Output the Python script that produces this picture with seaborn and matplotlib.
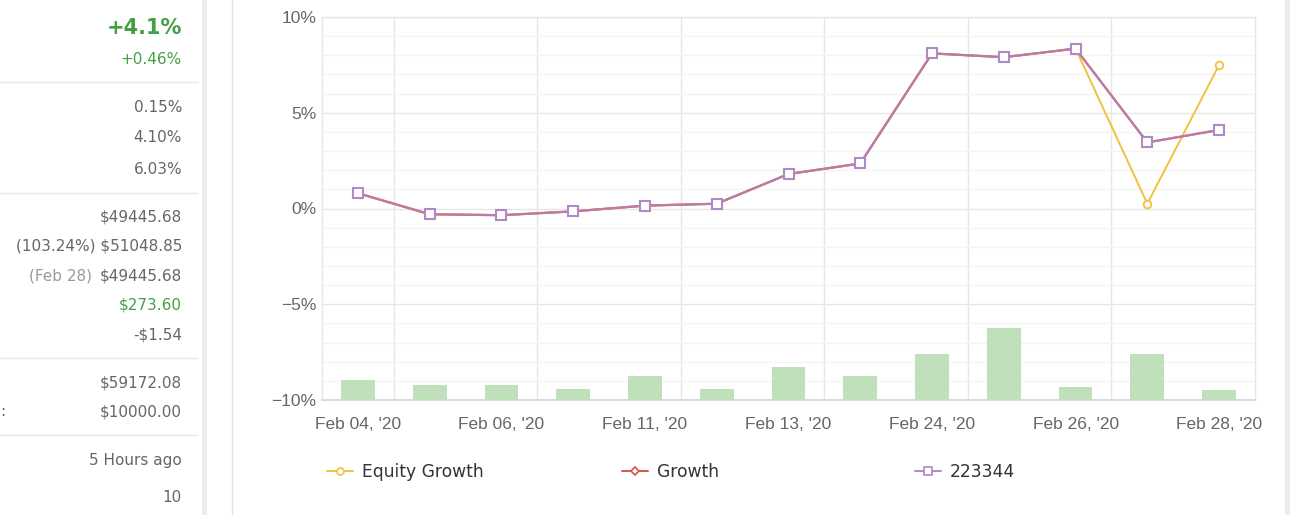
import numpy as np
import pandas as pd
import matplotlib.pyplot as plt
import matplotlib.ticker as mticker
from matplotlib.lines import Line2D
from matplotlib.patches import Rectangle
import seaborn as sns

# dados
datas = ["Feb 04, '20", "Feb 05, '20", "Feb 06, '20", "Feb 07, '20", "Feb 11, '20",
         "Feb 12, '20", "Feb 13, '20", "Feb 14, '20", "Feb 24, '20", "Feb 25, '20",
         "Feb 26, '20", "Feb 27, '20", "Feb 28, '20"]
equity_growth = [0.8, -0.3, -0.35, -0.15, 0.15, 0.25, 1.8, 2.35, 8.1, 7.9, 8.35, 0.25, 7.5]
growth = [0.8, -0.3, -0.35, -0.15, 0.15, 0.25, 1.8, 2.35, 8.1, 7.9, 8.35, 3.45, 4.1]
conta_223344 = [0.8, -0.3, -0.35, -0.15, 0.15, 0.25, 1.8, 2.35, 8.1, 7.9, 8.35, 3.45, 4.1]
volume = [5.1, 3.8, 3.8, 2.9, 6.3, 2.9, 8.5, 6.3, 11.9, 18.8, 3.4, 11.9, 2.5]

# painel da esquerda (valores)
painel_textos = ["+4.1%", "+0.46%", "0.15%", "4.10%", "6.03%", "$49445.68",
                 "(103.24%) $51048.85", "$49445.68", "$273.60", "-$1.54",
                 "$59172.08", "$10000.00", "5 Hours ago", "10"]
painel_y = [28, 60, 108, 138, 169, 217, 246, 276, 305, 335, 383, 412, 460, 497]
separadores_y = [82, 193, 358, 435]

df = pd.DataFrame({"data": datas, "equity": equity_growth, "growth": growth,
                   "conta": conta_223344, "volume": volume})

AMARELO = '#f4c040'
VERMELHO = '#d9534f'
ROXO = '#b08ac6'
VERDE_BARRA = '#bfe0bb'
CINZA = '#666666'
VERDE = '#43a047'

sns.set_style("white")
plt.rcParams['font.family'] = ['DejaVu Sans']

W, H = 1290, 515
fig = plt.figure(figsize=(W / 100, H / 100), dpi=100)
fig.patch.set_facecolor('white')

x0, x1, y0, y1 = 322, 1255, 17, 400
ax = fig.add_axes([x0 / W, 1 - y1 / H, (x1 - x0) / W, (y1 - y0) / H])
ax2 = ax.twinx()

# linhas
sns.lineplot(data=df, x="data", y="equity", ax=ax, sort=False, color=AMARELO, linewidth=1.4,
             marker='o', markersize=5.5, markerfacecolor='white', markeredgecolor=AMARELO,
             markeredgewidth=1.3, zorder=3)
sns.lineplot(data=df, x="data", y="growth", ax=ax, sort=False, color=VERMELHO, linewidth=1.6,
             marker='D', markersize=4, markerfacecolor='white', markeredgecolor=VERMELHO,
             zorder=4)
sns.lineplot(data=df, x="data", y="conta", ax=ax, sort=False, color=ROXO, linewidth=1.6,
             alpha=0.75, zorder=5)
sns.lineplot(data=df, x="data", y="conta", ax=ax, sort=False, color=ROXO, linewidth=0,
             marker='s', markersize=6.5, markerfacecolor='white', markeredgecolor=ROXO,
             markeredgewidth=1.5, zorder=6)

# barras (eixo secundário escondido)
sns.barplot(data=df, x="data", y="volume", ax=ax2, color=VERDE_BARRA, width=0.47,
            saturation=1, linewidth=0)
ax2.set_ylim(0, 100)
ax2.set_yticks([])
ax2.set_ylabel('')
for s in ax2.spines.values():
    s.set_visible(False)

ax.set_ylim(-10, 10)
ax.set_xlim(-0.5, len(datas) - 0.5)
ax.set_xlabel('')
ax.set_ylabel('')
ax.yaxis.set_major_locator(mticker.MultipleLocator(5))
ax.yaxis.set_minor_locator(mticker.MultipleLocator(1))
ax.yaxis.set_major_formatter(mticker.PercentFormatter(decimals=0))
ax.set_xticks(range(0, len(datas), 2))
ax.set_xticklabels(datas[::2])
ax.set_xticks(np.arange(0.5, len(datas) - 1, 2), minor=True)

ax.set_axisbelow(True)
ax.grid(which='major', axis='y', color='#e6e6e6', linewidth=1)
ax.grid(which='minor', axis='y', color='#f4f4f4', linewidth=1)
ax.grid(which='minor', axis='x', color='#e6e6e6', linewidth=1)
ax.grid(which='major', axis='x', visible=False)
ax.tick_params(which='both', length=0, labelfontfamily='Liberation Sans')
ax.tick_params(axis='y', colors=CINZA, labelsize=12.5, pad=4)
ax.tick_params(axis='x', colors=CINZA, labelsize=12.5, pad=12)
for nome in ['left', 'right', 'top']:
    ax.spines[nome].set_color('#e6e6e6')
    ax.spines[nome].set_linewidth(1)
ax.spines['bottom'].set_color('#ccd6eb')
ax.spines['bottom'].set_linewidth(1.2)

# legenda
itens = [
    (Line2D([], [], color=AMARELO, lw=1.4, marker='o', markersize=5, markerfacecolor='white',
            markeredgecolor=AMARELO, markeredgewidth=1.2), "Equity Growth", 327),
    (Line2D([], [], color=VERMELHO, lw=1.4, marker='D', markersize=4, markerfacecolor='white',
            markeredgecolor=VERMELHO, markeredgewidth=1.2), "Growth", 622),
    (Line2D([], [], color=ROXO, lw=1.4, marker='s', markersize=6, markerfacecolor='white',
            markeredgecolor=ROXO, markeredgewidth=1.2), "223344", 915),
]
for h, txt, xp in itens:
    leg = fig.legend(handles=[h], labels=[txt], loc='center left',
                     bbox_to_anchor=(xp / W, 1 - 472 / H), frameon=False,
                     borderpad=0, borderaxespad=0, handlelength=1.5, handletextpad=0.55,
                     fontsize=12.3, numpoints=1)
    for t in leg.get_texts():
        t.set_color('#333333')

# painel da esquerda
for i, (txt, yp) in enumerate(zip(painel_textos, painel_y)):
    cor = CINZA
    peso = 'normal'
    tam = 11
    if i == 0:
        cor, peso, tam = VERDE, 'bold', 15
    elif i in (1, 8):
        cor = VERDE
    if i == 7:
        fig.text(182 / W, 1 - yp / H, "$49445.68", ha='right', va='center',
                 color=CINZA, fontsize=tam)
        fig.text(92 / W, 1 - yp / H, "(Feb 28)", ha='right', va='center',
                 color='#9a9a9a', fontsize=tam)
        continue
    fig.text(182 / W, 1 - yp / H, txt, ha='right', va='center', color=cor,
             fontsize=tam, fontweight=peso)
fig.text(0, 1 - 412 / H, ":", ha='left', va='center', color=CINZA, fontsize=11)

for yp in separadores_y:
    fig.add_artist(Line2D([0, 198 / W], [1 - yp / H, 1 - yp / H], color='#e8e8e8', lw=1))

# bordas dos cartões
fig.add_artist(Rectangle((202 / W, 0), 5 / W, 1, color='#ededed', lw=0))
fig.add_artist(Line2D([232 / W, 232 / W], [0, 1], color='#e2e2e2', lw=1))
fig.add_artist(Rectangle((1285 / W, 0), 5 / W, 1, color='#ececec', lw=0))

plt.savefig('out.png', dpi=100)
